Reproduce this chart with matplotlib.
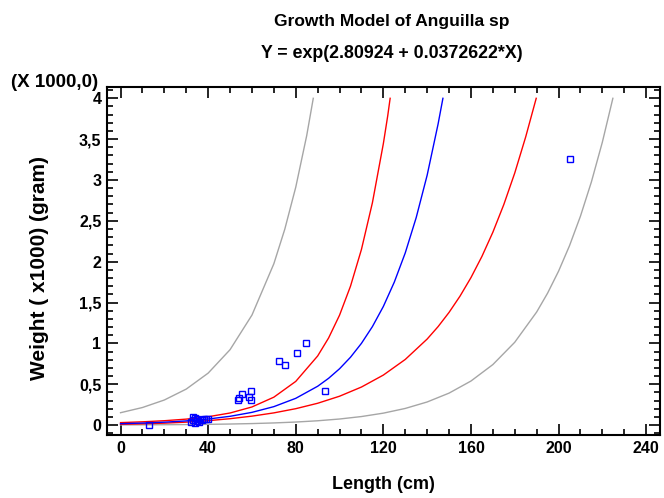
import matplotlib
matplotlib.use("Agg")
import matplotlib.pyplot as plt
from matplotlib.ticker import MultipleLocator, FixedLocator

plt.rcParams['font.family'] = ['Liberation Sans', 'DejaVu Sans']

# Observed data (Length cm, Weight x1000 g)
length_obs = [13, 32, 33, 33, 34, 34, 35, 35, 36, 37, 38, 39, 40,
              53.5, 54.2, 55.6, 58.7, 59.6, 59.6, 72.4, 75.1, 80.6, 84.7, 93.4, 205.3]
weight_obs = [0.0, 0.04, 0.10, 0.06, 0.09, 0.03, 0.05, 0.07, 0.04, 0.06, 0.07, 0.07, 0.08,
              0.31, 0.33, 0.38, 0.34, 0.42, 0.31, 0.79, 0.74, 0.885, 1.01, 0.42, 3.26]

# Fitted curve
fit_x = [0, 10, 20, 30, 40, 50, 60, 70, 80, 90, 95, 100, 105, 110, 115, 120, 125, 130, 135, 140, 145, 147.2]
fit_y = [0.0166, 0.0241, 0.0350, 0.0508, 0.0737, 0.1069, 0.1552, 0.2253, 0.3270, 0.4747, 0.5720,
         0.6890, 0.8301, 1.0001, 1.2048, 1.4517, 1.7496, 2.1071, 2.5396, 3.0585, 3.6860, 4.000]

# Confidence limits (red)
conf_up_x = [0, 10, 20, 30, 40, 50, 60, 70, 80, 90, 95, 100, 105, 110, 115, 120, 122, 123.1]
conf_up_y = [0.0296, 0.0394, 0.0529, 0.0724, 0.1015, 0.1474, 0.2213, 0.3411, 0.5342, 0.8454, 1.066,
             1.345, 1.700, 2.150, 2.721, 3.445, 3.786, 4.000]
conf_lo_x = [0, 10, 20, 30, 40, 50, 60, 70, 80, 90, 100, 110, 120, 130, 140, 145, 150, 155, 160,
             165, 170, 175, 180, 185, 189.8]
conf_lo_y = [0.0093, 0.0148, 0.0231, 0.0356, 0.0535, 0.0776, 0.1089, 0.1488, 0.2002, 0.2665, 0.3528,
             0.4652, 0.6117, 0.8029, 1.0526, 1.205, 1.3789, 1.5777, 1.8046, 2.0638, 2.3602, 2.699,
             3.0856, 3.5278, 4.000]

# Prediction limits (gray)
pred_up_x = [0, 10, 20, 30, 40, 50, 60, 70, 75, 80, 85, 88]
pred_up_y = [0.1509, 0.2145, 0.3065, 0.4402, 0.6356, 0.9225, 1.346, 1.9745, 2.398, 2.9116, 3.543, 4.000]
pred_lo_x = [0, 10, 20, 30, 40, 50, 60, 70, 80, 90, 100, 110, 120, 130, 140, 150, 160, 170, 180,
             190, 195, 200, 205, 210, 215, 220, 224.8]
pred_lo_y = [0.0018, 0.0027, 0.0040, 0.0059, 0.0085, 0.0124, 0.0179, 0.0257, 0.0367, 0.0522, 0.0738,
             0.1039, 0.1456, 0.2032, 0.2823, 0.3908, 0.5387, 0.7401, 1.0134, 1.3835, 1.6148, 1.8833,
             2.195, 2.557, 2.9765, 3.463, 4.000]

x_ticks = [0, 40, 80, 120, 160, 200, 240]
y_ticks = [0, 0.5, 1, 1.5, 2, 2.5, 3, 3.5, 4]
y_tick_labels = ["0", "0,5", "1", "1,5", "2", "2,5", "3", "3,5", "4"]

fig = plt.figure(figsize=(6.64, 4.98), dpi=100)
ax = fig.add_axes([0.1611, 0.1265, 0.8328, 0.6994])

gray = "#a6a6a6"
ax.plot(pred_up_x, pred_up_y, color=gray, lw=1.0)
ax.plot(pred_lo_x, pred_lo_y, color=gray, lw=1.0)
ax.plot(conf_up_x, conf_up_y, color="#ff0000", lw=1.0)
ax.plot(conf_lo_x, conf_lo_y, color="#ff0000", lw=1.0)
ax.plot(fit_x, fit_y, color="#0000ff", lw=1.0)
ax.plot(length_obs, weight_obs, linestyle="none", marker="s", markersize=5,
        markerfacecolor="none", markeredgecolor="#0000ff", markeredgewidth=1.0)

ax.set_xlim(-6.2, 246.3)
ax.set_ylim(-0.122, 4.142)

ax.xaxis.set_major_locator(FixedLocator(x_ticks))
ax.xaxis.set_minor_locator(MultipleLocator(10))
ax.yaxis.set_major_locator(FixedLocator(y_ticks))
ax.yaxis.set_minor_locator(MultipleLocator(0.1))
ax.set_yticklabels(y_tick_labels)
ax.set_xticklabels([str(v) for v in x_ticks])

for sp in ax.spines.values():
    sp.set_linewidth(1.5)

ax.tick_params(which="both", direction="in", top=True, right=True, width=1.2)
ax.tick_params(which="major", length=8, labelsize=11.5, pad=4)
ax.tick_params(which="minor", length=4)
for lab in ax.get_xticklabels() + ax.get_yticklabels():
    lab.set_fontweight("bold")

fig.text(0.59, 0.956, "Growth Model of Anguilla sp", ha="center", va="center",
         fontsize=12.5, fontweight="bold")
fig.text(0.59, 0.892, "Y = exp(2.80924 + 0.0372622*X)", ha="center", va="center",
         fontsize=12.8, fontweight="bold")
fig.text(0.148, 0.835, "(X 1000,0)", ha="right", va="center", fontsize=13.5, fontweight="bold")
fig.text(0.06, 0.462, "Weight ( x1000) (gram)", ha="center", va="center", rotation=90,
         fontsize=15, fontweight="bold")
fig.text(0.577, 0.027, "Length (cm)", ha="center", va="center", fontsize=13, fontweight="bold")

fig.savefig("out.png", dpi=100)
